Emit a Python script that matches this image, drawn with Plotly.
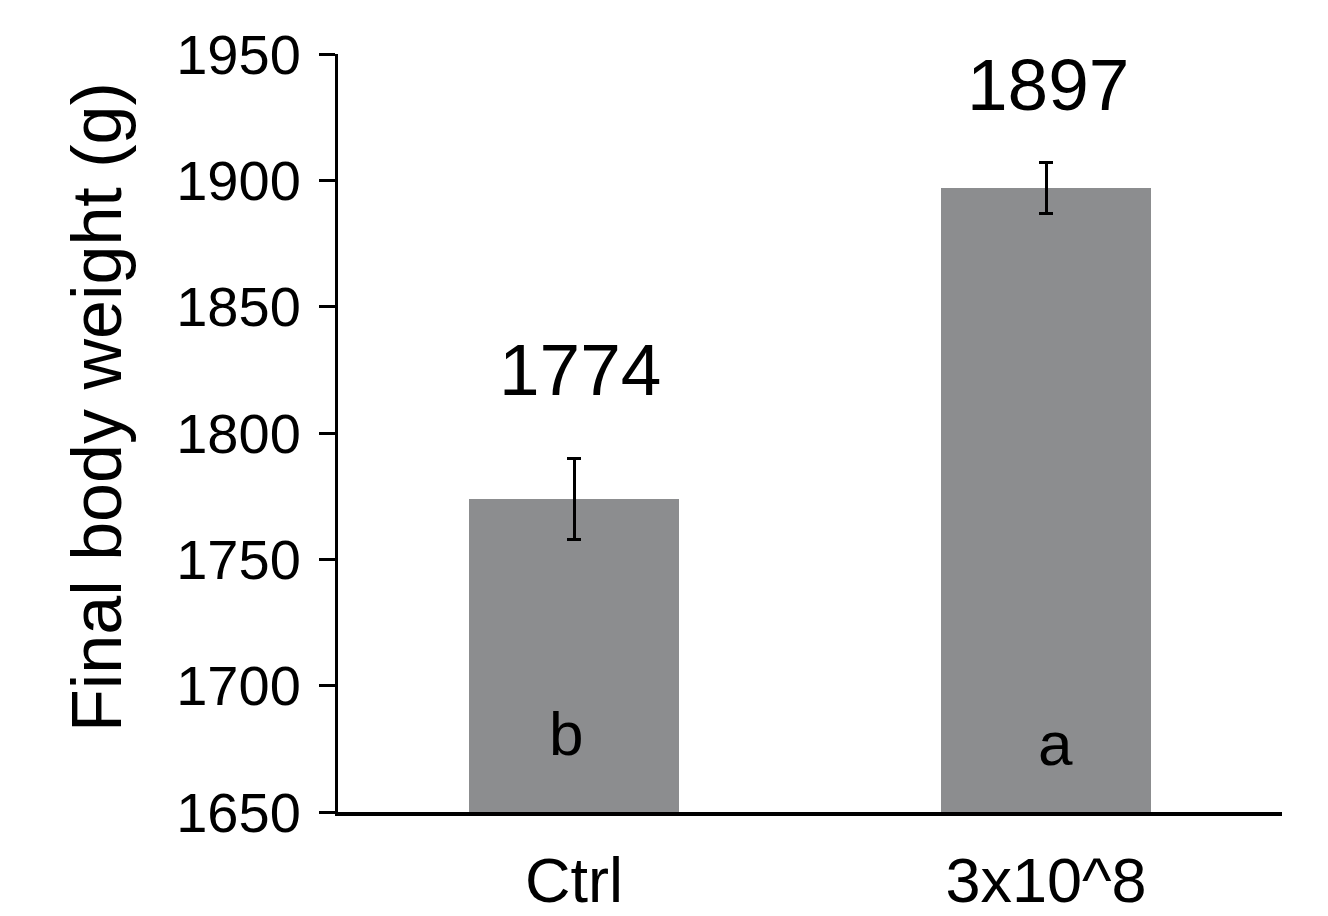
import plotly.graph_objects as go

categories = ["Ctrl", "3x10^8"]
means = [1774, 1897]
errors = [16, 10]
value_labels = ["1774", "1897"]
value_label_y = [1825, 1938]
value_label_x = [0.013, 1.004]
letters = ["b", "a"]
letter_y = [1681, 1677]
letter_x = [-0.017, 1.02]
y_title = "Final body weight (g)"

FONT = "Liberation Sans, Arial, sans-serif"
# page body adds an 8px offset; compensate in margins
OFF = 8
L, R, T, B = 338 - OFF, 46 + OFF, 54 - OFF, 104 + OFF

fig = go.Figure()
fig.add_trace(go.Bar(
    x=[0, 1], y=means, width=0.445,
    marker=dict(color="rgb(140,141,143)", line=dict(width=0)),
    error_y=dict(type="data", array=errors, visible=True,
                 color="black", thickness=3, width=7),
    showlegend=False,
))

for i in range(len(categories)):
    fig.add_annotation(x=value_label_x[i], y=value_label_y[i], text=value_labels[i],
                       showarrow=False, xref="x", yref="y", yanchor="middle",
                       font=dict(family=FONT, size=73, color="black"))
    fig.add_annotation(x=letter_x[i], y=letter_y[i], text=letters[i],
                       showarrow=False, xref="x", yref="y", yanchor="middle",
                       font=dict(family=FONT, size=62, color="black"))

fig.add_annotation(x=0, y=1 - (407 - 54) / (812 - 54),
                   xref="paper", yref="paper", text=y_title, textangle=-90,
                   showarrow=False, xanchor="center", yanchor="middle",
                   xshift=97 - 338,
                   font=dict(family=FONT, size=70, color="black"))

fig.update_layout(
    width=1328, height=916,
    margin=dict(l=L, r=R, t=T, b=B, autoexpand=False),
    plot_bgcolor="white", paper_bgcolor="white",
    font=dict(family=FONT, color="black"),
    bargap=0,
)
fig.update_xaxes(
    range=[-0.5, 1.5], tickmode="array", tickvals=[0, 1], ticktext=categories,
    showline=True, linecolor="black", linewidth=3.5, ticks="",
    showgrid=False, zeroline=False, automargin=False,
    ticklabelstandoff=11,
    tickfont=dict(family=FONT, size=63, color="black"),
)
fig.update_yaxes(
    range=[1650, 1950], tickmode="array", tickvals=list(range(1650, 1951, 50)),
    showline=True, linecolor="black", linewidth=3,
    ticks="outside", ticklen=16, tickwidth=3, tickcolor="black",
    showgrid=False, zeroline=False, automargin=False,
    ticklabelstandoff=7,
    tickfont=dict(family=FONT, size=56, color="black"),
)

fig.write_html("out.html")
